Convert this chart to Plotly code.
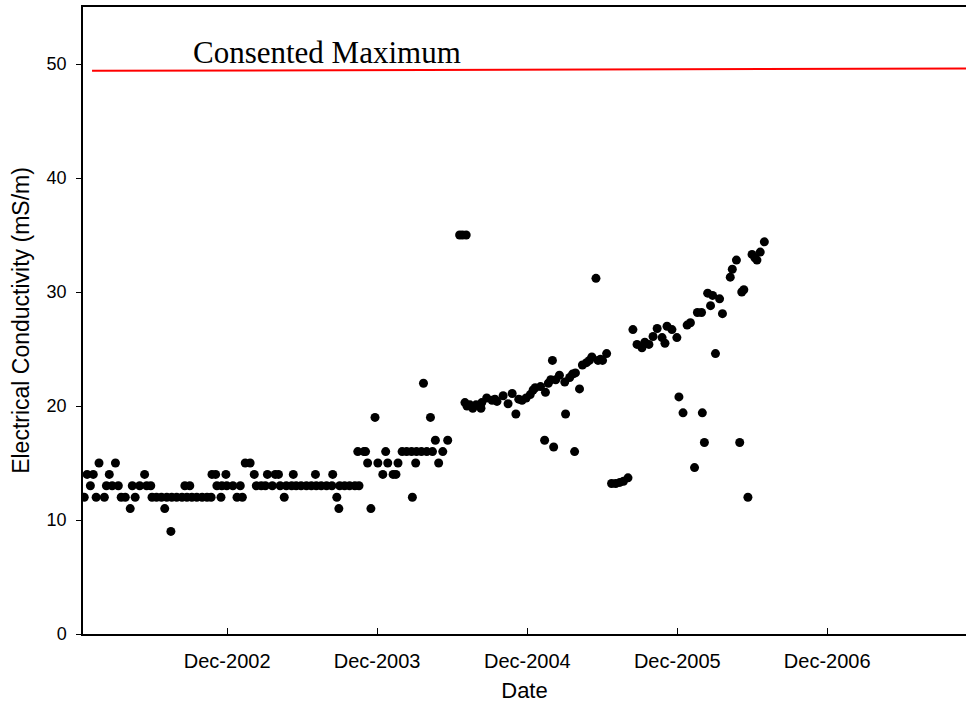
import plotly.graph_objects as go

# ---- data ----
dates = [
    "2002-01-17","2002-01-24","2002-02-01","2002-02-08","2002-02-15","2002-02-22",
    "2002-03-07","2002-03-12","2002-03-19","2002-03-26","2002-04-03","2002-04-10",
    "2002-04-17","2002-04-27","2002-05-09","2002-05-14","2002-05-21","2002-06-01",
    "2002-06-13","2002-06-18","2002-06-28","2002-07-01","2002-07-12","2002-07-24",
    "2002-08-01","2002-08-06","2002-08-16","2002-08-18","2002-08-30","2002-09-12",
    "2002-09-19","2002-09-24","2002-10-01","2002-10-06","2002-10-18","2002-10-31",
    "2002-11-12","2002-11-22","2002-11-24","2002-12-03","2002-12-06","2002-12-16",
    "2002-12-18","2002-12-28","2002-12-30",
    "2003-01-14","2003-01-24","2003-02-01","2003-02-06","2003-02-13","2003-02-25",
    "2003-03-07","2003-03-12","2003-03-24","2003-04-03","2003-04-08","2003-04-20",
    "2003-04-27","2003-05-05","2003-05-09","2003-05-19","2003-05-24","2003-06-06",
    "2003-06-10","2003-06-17","2003-06-29","2003-07-12","2003-07-24","2003-08-03",
    "2003-08-05","2003-08-17","2003-08-30","2003-09-12","2003-09-14","2003-09-24",
    "2003-09-29","2003-10-01","2003-10-13","2003-10-25","2003-11-07","2003-11-14",
    "2003-11-17","2003-11-29","2003-12-03","2003-12-08","2003-12-16","2003-12-26",
    "2004-01-02","2004-01-14","2004-01-21","2004-01-26","2004-02-08","2004-02-15",
    "2004-02-20","2004-03-01","2004-03-12","2004-03-24","2004-03-26","2004-04-03",
    "2004-04-05","2004-04-17","2004-04-22","2004-04-30","2004-05-09","2004-05-14",
    "2004-05-21","2004-05-29","2004-06-08","2004-06-20",
    "2004-07-19","2004-07-26","2004-08-04",
    "2004-08-01","2004-08-06","2004-08-13","2004-08-20","2004-08-28","2004-09-09",
    "2004-09-11","2004-09-23","2004-10-06","2004-10-13","2004-10-18","2004-11-02",
    "2004-11-14","2004-11-24","2004-12-03","2004-12-10","2004-12-18","2004-12-28",
    "2005-01-07","2005-01-14","2005-01-19","2005-02-01","2005-02-11","2005-02-13",
    "2005-02-20","2005-02-26","2005-03-02","2005-03-05","2005-03-10","2005-03-19",
    "2005-04-01","2005-04-03","2005-04-13","2005-04-20","2005-04-25","2005-04-27",
    "2005-05-07","2005-05-14","2005-05-24","2005-05-31","2005-06-06","2005-06-16",
    "2005-06-21","2005-06-27","2005-07-02","2005-07-12",
    "2005-07-24","2005-08-03","2005-08-13","2005-08-22","2005-09-02",
    "2005-09-14","2005-09-24","2005-10-06","2005-10-13","2005-10-23","2005-11-02",
    "2005-11-12","2005-11-24","2005-12-01","2005-12-06","2005-12-18","2005-12-30",
    "2006-01-04","2006-01-14","2006-01-24","2006-02-01","2006-02-11","2006-02-18",
    "2006-02-28","2006-03-02","2006-03-07","2006-03-15","2006-03-22","2006-03-27",
    "2006-04-03","2006-04-13","2006-04-20","2006-05-09","2006-05-14","2006-05-24",
    "2006-06-01","2006-06-06","2006-06-11","2006-06-21","2006-07-01","2006-07-08",
    "2006-07-13","2006-07-21","2006-07-31",
]
ec = [
    12, 14, 13, 14, 12, 15,
    12, 13, 14, 13, 15, 13,
    12, 12, 11, 13, 12, 13,
    14, 13, 13, 12, 12, 12,
    11, 12, 9, 12, 12, 12,
    13, 12, 13, 12, 12, 12,
    12, 12, 14, 14, 13, 12,
    13, 14, 13,
    13, 12, 13, 12, 15, 15,
    14, 13, 13, 13, 14, 13,
    14, 14, 13, 12, 13, 13,
    14, 13, 13, 13, 13, 14,
    13, 13, 13, 13, 14, 12,
    11, 13, 13, 13, 13, 16,
    13, 16, 16, 15, 11, 19,
    15, 14, 16, 15, 14, 14,
    15, 16, 16, 16, 12, 15,
    16, 16, 22, 16, 19, 16,
    17, 15, 16, 17,
    35, 35, 35,
    20.3, 20.0, 20.1, 19.8, 20.1, 19.8,
    20.3, 20.7, 20.5, 20.6, 20.4, 20.9,
    20.2, 21.1, 19.3, 20.6, 20.5, 20.7,
    21.0, 21.4, 21.6, 21.7, 17.0, 21.2,
    22.0, 22.3, 24.0, 16.4, 22.3, 22.7,
    22.1, 19.3, 22.5, 22.8, 16.0, 22.9,
    21.5, 23.6, 23.8, 24.0, 24.3, 31.2,
    24.0, 24.1, 24.0, 24.6,
    13.2, 13.2, 13.3, 13.4, 13.7,
    26.7, 25.4, 25.1, 25.6, 25.4, 26.1,
    26.8, 26.0, 25.5, 27.0, 26.7, 26.0,
    20.8, 19.4, 27.1, 27.3, 14.6, 28.2,
    28.2, 19.4, 16.8, 29.9, 28.8, 29.7,
    24.6, 29.4, 28.1, 31.3, 32.0, 32.8,
    16.8, 30.0, 30.2, 12.0, 33.3, 33.0,
    32.8, 33.5, 34.4,
]

limit_dates = ["2002-02-05", "2007-12-31"]
limit_values = [49.4, 49.6]
limit_label = "Consented Maximum"

tick_dates = ["2002-12-31", "2003-12-31", "2004-12-31", "2005-12-31", "2006-12-31"]
tick_labels = ["Dec-2002", "Dec-2003", "Dec-2004", "Dec-2005", "Dec-2006"]
y_ticks = [0, 10, 20, 30, 40, 50]

fig = go.Figure()
fig.add_trace(go.Scatter(
    x=limit_dates, y=limit_values, mode="lines",
    line=dict(color="#ff0000", width=2), hoverinfo="skip", showlegend=False,
))
fig.add_trace(go.Scatter(
    x=dates, y=ec, mode="markers",
    marker=dict(color="black", size=9, line=dict(width=0)),
    showlegend=False,
))

fig.add_annotation(
    x=0.276, xref="paper", y=51.0, yref="y",
    text=limit_label, showarrow=False,
    font=dict(family="Liberation Serif", size=31, color="black"),
    xanchor="center", yanchor="middle",
)

fig.update_layout(
    width=967, height=713,
    margin=dict(l=83, r=1, t=7, b=79),
    plot_bgcolor="white", paper_bgcolor="white",
    font=dict(family="Liberation Sans", color="black", size=16),
    xaxis=dict(
        type="date", range=["2002-01-14", "2007-12-04"],
        tickvals=tick_dates, ticktext=tick_labels,
        ticks="inside", ticklen=6, tickcolor="black", tickwidth=1,
        showline=True, linecolor="black", linewidth=1.5, mirror=True,
        showgrid=False, zeroline=False,
        tickfont=dict(size=20), ticklabelstandoff=8,
        title=dict(text="Date", font=dict(size=22), standoff=12),
    ),
    yaxis=dict(
        range=[0, 55], tickvals=y_ticks,
        ticks="outside", ticklen=5, tickcolor="black", tickwidth=1,
        showline=True, linecolor="black", linewidth=1.5,
        showgrid=False, zeroline=False,
        tickfont=dict(size=18), ticklabelstandoff=6,
        title=dict(text="Electrical Conductivity (mS/m)", font=dict(size=23), standoff=11),
    ),
)

fig.write_html("out.html")
